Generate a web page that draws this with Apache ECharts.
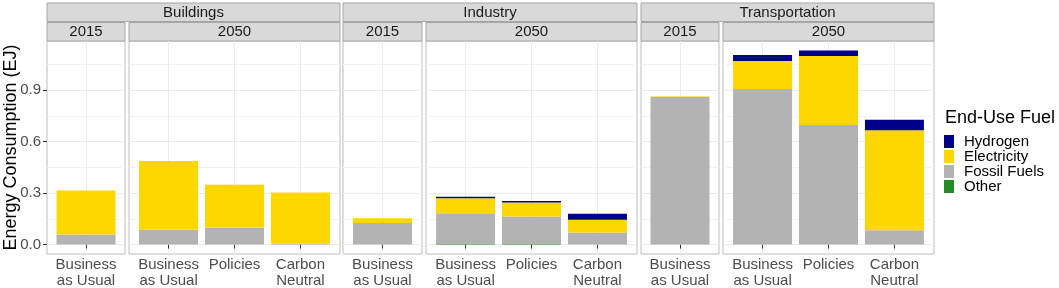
<!DOCTYPE html>
<html>
<head>
<meta charset="utf-8">
<script src="https://cdn.jsdelivr.net/npm/echarts@6/dist/echarts.min.js"></script>
<style>
  html, body { margin: 0; padding: 0; background: #fff; }
  #chart { width: 1059px; height: 288px; }
</style>
</head>
<body>
<div id="chart"></div>
<script>
const sectors = ['Buildings', 'Industry', 'Transportation'];
const years = ['2015', '2050'];
const scenarios2015 = ['Business\nas Usual'];
const scenarios2050 = ['Business\nas Usual', 'Policies', 'Carbon\nNeutral'];
const fuels = ['Other', 'Fossil Fuels', 'Electricity', 'Hydrogen']; // stacking order, bottom first
const legendOrder = ['Hydrogen', 'Electricity', 'Fossil Fuels', 'Other'];
const yTicks = [0, 0.3, 0.6, 0.9];
const yMinorTicks = [0.15, 0.45, 0.75, 1.05];

// per sector: [2015 BAU, 2050 BAU, 2050 Policies, 2050 Carbon Neutral] in EJ
const otherFuel = [[0, 0, 0, 0], [0, 0.003, 0.003, 0], [0, 0, 0, 0]];
const fossilFuels = [[0.058, 0.087, 0.099, 0.006], [0.126, 0.179, 0.160, 0.070], [0.862, 0.907, 0.697, 0.083]];
const electricity = [[0.257, 0.400, 0.250, 0.297], [0.027, 0.088, 0.082, 0.074], [0.003, 0.163, 0.403, 0.583]];
const hydrogen = [[0, 0, 0, 0], [0, 0.009, 0.009, 0.036], [0, 0.035, 0.032, 0.062]];

const fuelValues = [otherFuel, fossilFuels, electricity, hydrogen];
const fuelColors = ['#228B22', '#B3B3B3', '#FFD700', '#00008B'];

// layout (px)
const panelLeft = [47, 129, 343, 426, 641, 723];
const panelWidth = [78, 211, 79, 211, 78, 211];
const panelTop = 41;
const panelHeight = 213;
const yMin = -0.055;
const yMax = 1.187;
const font = "'Liberation Sans', Arial, sans-serif";

const chart = echarts.init(document.getElementById('chart'));

const grids = [];
const xAxes = [];
const yAxes = [];
const series = [];
const graphics = [];

for (let p = 0; p < 6; p++) {
    const s = Math.floor(p / 2);
    const y = p % 2;
    const names = y === 0 ? scenarios2015 : scenarios2050;
    const cols = y === 0 ? [0] : [1, 2, 3];
    const positions = names.map(function (n, i) { return i + 1; });
    const unitPx = panelWidth[p] / (names.length + 0.2);

    grids.push({
        left: panelLeft[p],
        top: panelTop,
        width: panelWidth[p],
        height: panelHeight,
        show: true,
        borderColor: '#BDBDBD',
        borderWidth: 1,
        backgroundColor: '#fff',
        outerBoundsMode: 'none'
    });

    xAxes.push({
        type: 'value',
        gridIndex: p,
        min: 0.4,
        max: names.length + 0.6,
        axisLine: { show: false },
        axisTick: { show: true, length: 4, customValues: positions, lineStyle: { color: '#333' } },
        axisLabel: {
            customValues: positions,
            formatter: function (v) { return names[Math.round(v) - 1]; },
            fontFamily: font,
            fontSize: 15,
            lineHeight: 16,
            color: '#4D4D4D',
            margin: 3
        },
        splitLine: { show: true, lineStyle: { color: '#EBEBEB', width: 1 } }
    });

    // major y axis
    yAxes.push({
        type: 'value',
        gridIndex: p,
        min: yMin,
        max: yMax,
        axisLine: { show: false },
        axisTick: { show: p === 0, length: 4, customValues: yTicks, lineStyle: { color: '#333' } },
        axisLabel: {
            show: p === 0,
            customValues: yTicks,
            formatter: function (v) { return v.toFixed(1); },
            fontFamily: font,
            fontSize: 15,
            color: '#4D4D4D',
            margin: 6
        },
        splitLine: { show: true, lineStyle: { color: '#EBEBEB', width: 1 } },
        name: p === 0 ? 'Energy Consumption (EJ)' : '',
        nameLocation: 'middle',
        nameGap: 27,
        nameMoveOverlap: false,
        nameTextStyle: { fontFamily: font, fontSize: 18, color: '#000' }
    });
    // minor gridlines
    yAxes.push({
        type: 'value',
        gridIndex: p,
        min: yMin,
        max: yMax,
        axisLine: { show: false },
        axisTick: { show: false, customValues: yMinorTicks },
        axisLabel: { show: false, customValues: yMinorTicks },
        splitLine: { show: true, lineStyle: { color: '#F3F3F3', width: 1 } }
    });

    fuels.forEach(function (fuel, f) {
        series.push({
            name: fuel,
            type: 'bar',
            xAxisIndex: p,
            yAxisIndex: 2 * p,
            stack: 'panel' + p,
            barWidth: Math.round(unitPx * 0.9),
            itemStyle: { color: fuelColors[f] },
            // value first so the stack is computed on the value dimension
            encode: { x: 1, y: 0 },
            data: cols.map(function (c, i) { return [fuelValues[f][s][c], positions[i]]; })
        });
    });

    // year strip
    graphics.push({
        type: 'rect',
        shape: { x: panelLeft[p], y: 22.5, width: panelWidth[p], height: 18.5 },
        style: { fill: '#D9D9D9', stroke: '#A6A6A6', lineWidth: 1 }
    });
    graphics.push({
        type: 'text',
        x: panelLeft[p] + panelWidth[p] / 2,
        y: 32,
        style: { text: years[y], fontFamily: font, fontSize: 15, fill: '#1A1A1A', align: 'center', verticalAlign: 'middle' }
    });
}

// sector strips
sectors.forEach(function (name, s) {
    const left = panelLeft[2 * s];
    const right = panelLeft[2 * s + 1] + panelWidth[2 * s + 1];
    graphics.push({
        type: 'rect',
        shape: { x: left, y: 3, width: right - left, height: 18.5 },
        style: { fill: '#D9D9D9', stroke: '#A6A6A6', lineWidth: 1 }
    });
    graphics.push({
        type: 'text',
        x: (left + right) / 2,
        y: 12.5,
        style: { text: name, fontFamily: font, fontSize: 15, fill: '#1A1A1A', align: 'center', verticalAlign: 'middle' }
    });
});

graphics.push({
    type: 'text',
    left: 945,
    top: 109,
    style: { text: 'End-Use Fuel', fontFamily: font, fontSize: 18, fill: '#000' }
});

chart.setOption({
    animation: false,
    grid: grids,
    xAxis: xAxes,
    yAxis: yAxes,
    series: series,
    legend: {
        data: legendOrder,
        orient: 'vertical',
        left: 944,
        top: 134,
        padding: 0,
        icon: 'rect',
        itemWidth: 10,
        itemHeight: 13,
        itemGap: 0,
        selectedMode: false,
        textStyle: { fontFamily: font, fontSize: 15, color: '#000', lineHeight: 13, padding: [0, 0, 0, 5] }
    },
    graphic: graphics
});
</script>
</body>
</html>
